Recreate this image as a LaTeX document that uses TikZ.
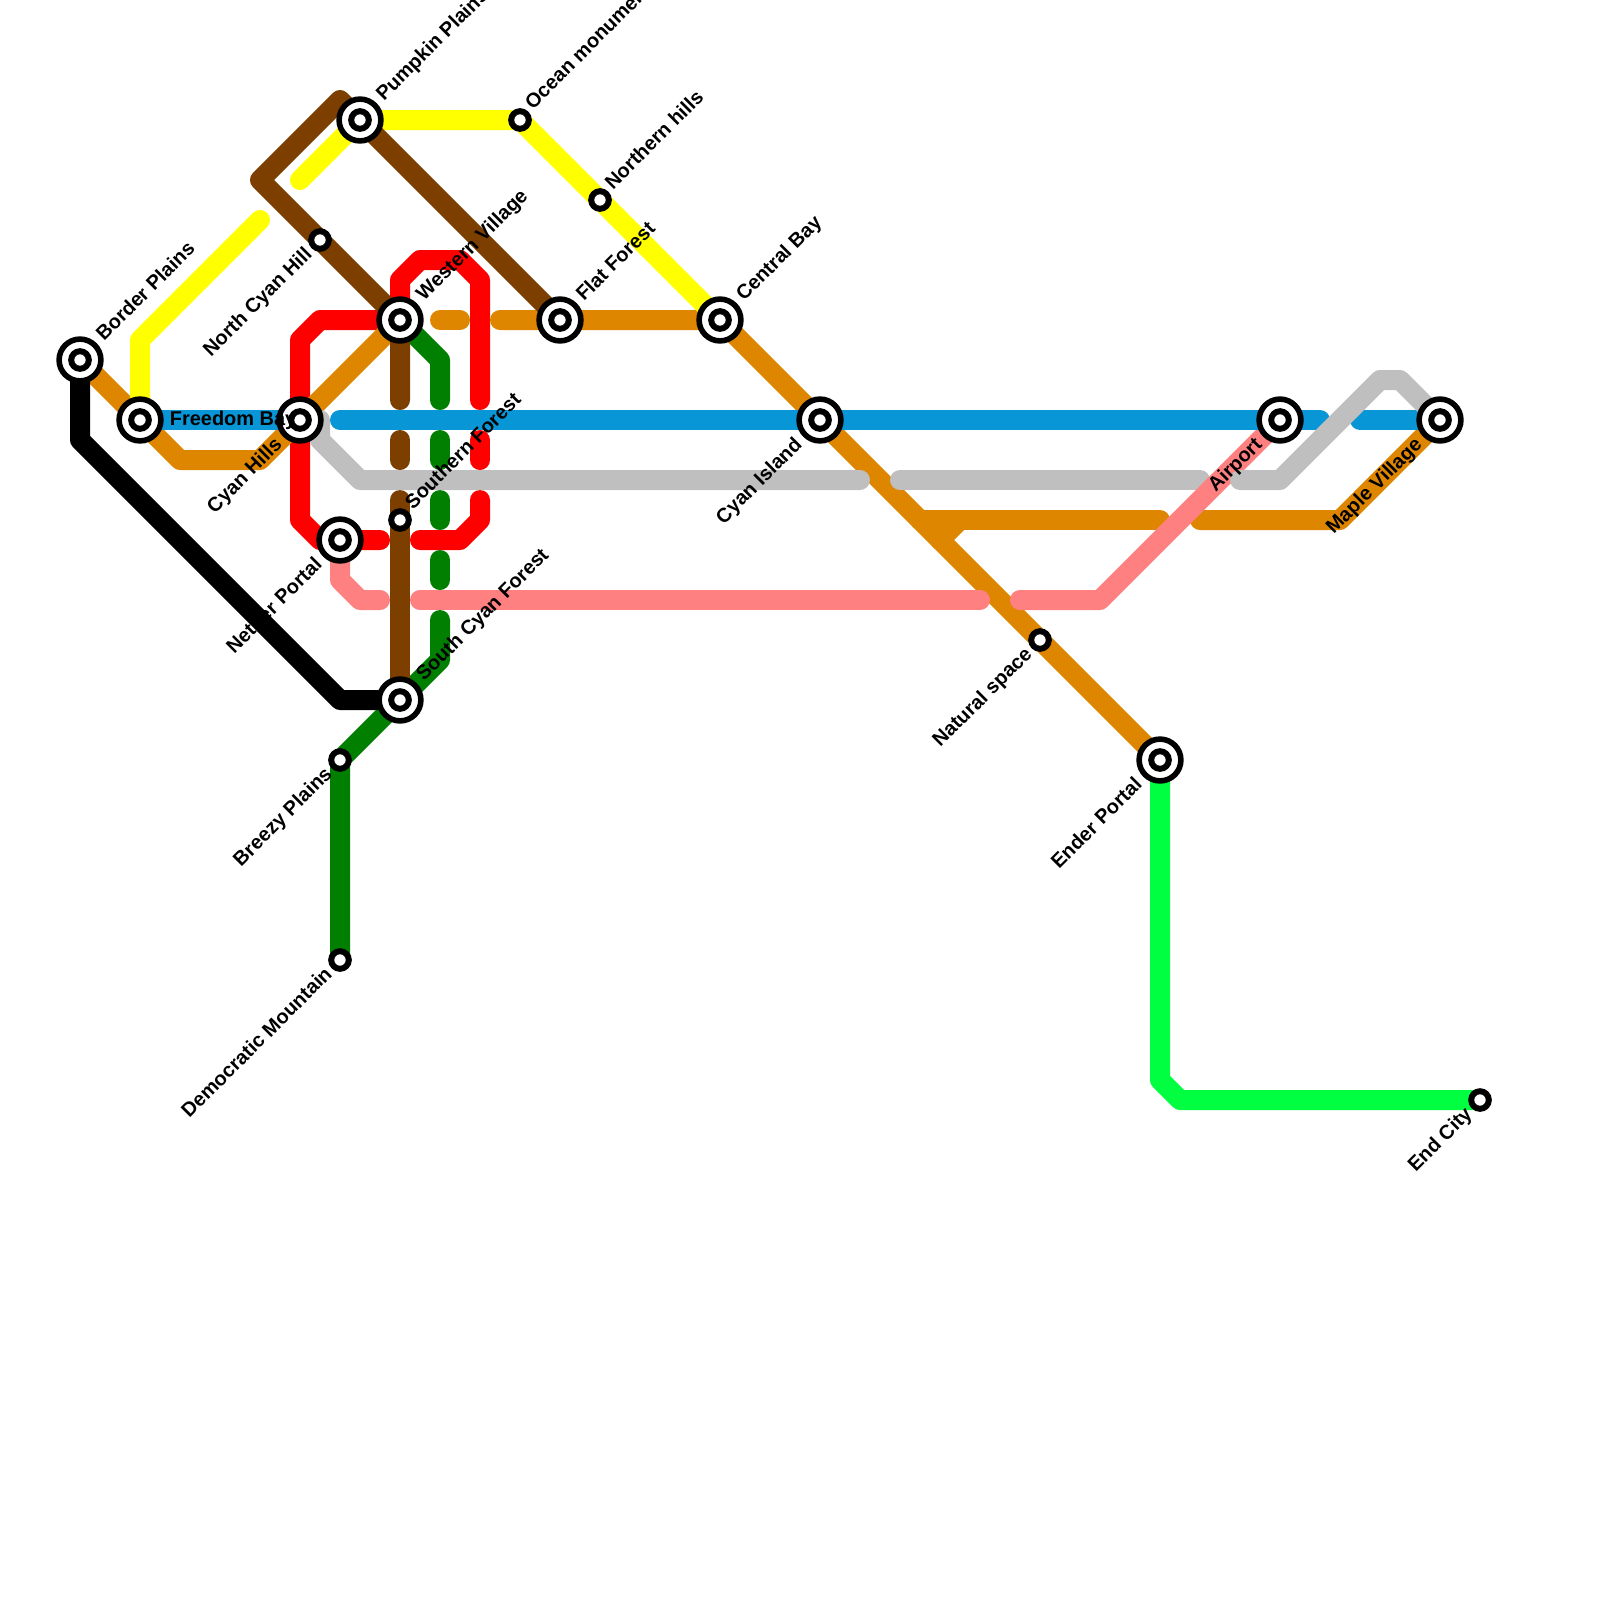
\documentclass[tikz,border=0pt]{standalone}
\usepackage{fontspec}
\setmainfont{Liberation Sans}
\usepackage{xcolor}
\usetikzlibrary{backgrounds,calc}
\definecolor{LineOrange}{HTML}{DF8600}
\definecolor{LineBlue}{HTML}{0896D7}
\definecolor{LineBrown}{HTML}{7C3F00}
\definecolor{LineGreen}{HTML}{007F00}
\definecolor{LinePink}{HTML}{FF8080}
\definecolor{LineGray}{HTML}{BFBFBF}
\definecolor{LineLime}{HTML}{00FF40}
\definecolor{LineYellow}{HTML}{FFFF00}
\definecolor{LineRed}{HTML}{FF0000}
\tikzset{
 route/.style={line width=5mm,line cap=round,line join=round},
 interchange/.style={circle,draw=black,fill=white,line width=1.4mm,inner sep=0pt,outer sep=0pt,minimum size=10.45mm,
  path picture={\draw[black,line width=1.5mm] (path picture bounding box.center) circle (2.2mm);}},
 halt/.style={circle,draw=black,fill=white,line width=1.5mm,inner sep=0pt,outer sep=0pt,minimum size=4.4mm},
 namebase/.style={font=\bfseries\fontsize{14.2}{15}\selectfont,text=black,inner sep=0pt},
 bigne/.style={namebase,xshift=6mm,yshift=4.5mm,rotate=45,anchor=base west},
 bigsw/.style={namebase,xshift=-4.2mm,yshift=-6.4mm,rotate=45,anchor=base east},
 smallne/.style={namebase,xshift=3.2mm,yshift=2.4mm,rotate=45,anchor=base west},
 smallsw/.style={namebase,xshift=-1.7mm,yshift=-3.8mm,rotate=45,anchor=base east}
}

\begin{document}
\begin{tikzpicture}[x=5mm,y=-5mm]
\useasboundingbox (0,0) rectangle (80,80);
% stations
\node[interchange] (border) at (4,18) {};
\node[interchange] (freedom) at (7,21) {};
\node[interchange] (hills) at (15,21) {};
\node[interchange] (pumpkin) at (18,6) {};
\node[halt] (ocean) at (26,6) {};
\node[halt] (northern) at (30,10) {};
\node[halt] (northcyan) at (16,12) {};
\node[interchange] (western) at (20,16) {};
\node[interchange] (flat) at (28,16) {};
\node[interchange] (central) at (36,16) {};
\node[halt] (southern) at (20,26) {};
\node[interchange] (nether) at (17,27) {};
\node[interchange] (southcyan) at (20,35) {};
\node[halt] (breezy) at (17,38) {};
\node[halt] (democratic) at (17,48) {};
\node[interchange] (island) at (41,21) {};
\node[halt] (natural) at (52,32) {};
\node[interchange] (ender) at (58,38) {};
\node[halt] (endcity) at (74,55) {};
\node[interchange] (airport) at (64,21) {};
\node[interchange] (maple) at (72,21) {};
% free ends of the broken routes
\coordinate (redA) at (19,27);
\coordinate (redB) at (21,27);
\coordinate (redC) at (24,25);
\coordinate (redD) at (24,23);
\coordinate (redE) at (24,22);
\coordinate (redF) at (24,20);
\coordinate (orangeA) at (22,16);
\coordinate (orangeB) at (23,16);
\coordinate (orangeC) at (25,16);
\coordinate (orangeD) at (46,26);
\coordinate (orangeE) at (48,26);
\coordinate (orangeF) at (47,27);
\coordinate (orangeG) at (58,26);
\coordinate (orangeH) at (60,26);
\coordinate (greenA) at (22,20);
\coordinate (greenB) at (22,22);
\coordinate (greenC) at (22,23);
\coordinate (greenD) at (22,25);
\coordinate (greenE) at (22,26);
\coordinate (greenF) at (22,28);
\coordinate (greenG) at (22,29);
\coordinate (greenH) at (22,31);
\coordinate (brownA) at (20,20);
\coordinate (brownB) at (20,22);
\coordinate (brownC) at (20,23);
\coordinate (brownD) at (20,25);
\coordinate (yellowA) at (15,9);
\coordinate (yellowB) at (13,11);
\coordinate (grayA) at (43,24);
\coordinate (grayB) at (45,24);
\coordinate (grayC) at (60,24);
\coordinate (grayD) at (62,24);
\coordinate (pinkA) at (19,30);
\coordinate (pinkB) at (21,30);
\coordinate (pinkC) at (49,30);
\coordinate (pinkD) at (51,30);
\coordinate (blueA) at (17,21);
\coordinate (blueB) at (66,21);
\coordinate (blueC) at (68,21);
% routes
\begin{scope}[on background layer]
\draw[route,LineRed] (western.center) -- (16,16) -- (15,17) -- (hills.center) -- (15,26) -- (16,27) -- (nether.center) -- (redA);
\draw[route,LineRed] (redB) -- (23,27) -- (24,26) -- (redC);
\draw[route,LineRed] (redD) -- (redE);
\draw[route,LineRed] (redF) -- (24,14) -- (23,13) -- (21,13) -- (20,14) -- (western.center);
\draw[route,LineOrange] (border.center) -- (freedom.center) -- (9,23) -- (13,23) -- (hills.center) -- (western.center);
\draw[route,LineOrange] (orangeA) -- (orangeB);
\draw[route,LineOrange] (orangeC) -- (flat.center) -- (central.center) -- (island.center) -- (natural.center) -- (ender.center);
\draw[route,LineOrange] (orangeD) -- (orangeE) -- (orangeG);
\draw[route,LineOrange] (orangeF) -- (orangeE);
\draw[route,LineOrange] (orangeH) -- (67,26) -- (maple.center);
\draw[route,LineGreen] (western.center) -- (22,18) -- (greenA);
\draw[route,LineGreen] (greenB) -- (greenC);
\draw[route,LineGreen] (greenD) -- (greenE);
\draw[route,LineGreen] (greenF) -- (greenG);
\draw[route,LineGreen] (greenH) -- (22,33) -- (southcyan.center) -- (breezy.center) -- (democratic.center);
\draw[route,LineYellow] (freedom.center) -- (7,17) -- (yellowB);
\draw[route,LineYellow] (yellowA) -- (pumpkin.center) -- (ocean.center) -- (northern.center) -- (central.center);
\draw[route,LineBrown] (flat.center) -- (pumpkin.center) -- (17,5) -- (13,9) -- (northcyan.center) -- (western.center) -- (brownA);
\draw[route,LineBrown] (brownB) -- (brownC);
\draw[route,LineBrown] (brownD) -- (southern.center) -- (southcyan.center);
\draw[route,black] (border.center) -- (4,22) -- (17,35) -- (southcyan.center);
\draw[route,LineGray] (hills.center) -- (16,21) -- (16,22) -- (18,24) -- (grayA);
\draw[route,LineGray] (grayB) -- (grayC);
\draw[route,LinePink] (nether.center) -- (17,29) -- (18,30) -- (pinkA);
\draw[route,LinePink] (pinkB) -- (pinkC);
\draw[route,LinePink] (pinkD) -- (55,30) -- (airport.center);
\draw[route,LineBlue] (freedom.center) -- (hills.center);
\draw[route,LineBlue] (blueA) -- (island.center) -- (airport.center) -- (blueB);
\draw[route,LineBlue] (blueC) -- (maple.center);
\draw[route,LineGray] (grayD) -- (64,24) -- (69,19) -- (70,19) -- (maple.center);
\draw[route,LineLime] (ender.center) -- (58,54) -- (59,55) -- (endcity.center);
\end{scope}
% names
\node[bigne] (borderName) at (border) {Border Plains};
\node[namebase,xshift=7.4mm,yshift=-1.35mm,anchor=base west] (freedomName) at (freedom) {Freedom Bay};
\node[bigsw] (hillsName) at (hills) {Cyan Hills};
\node[bigne] (pumpkinName) at (pumpkin) {Pumpkin Plains};
\node[smallne] (oceanName) at (ocean) {Ocean monument};
\node[smallne] (northernName) at (northern) {Northern hills};
\node[smallsw] (northcyanName) at (northcyan) {North Cyan Hill};
\node[bigne] (westernName) at (western) {Western Village};
\node[bigne] (flatName) at (flat) {Flat Forest};
\node[bigne] (centralName) at (central) {Central Bay};
\node[smallne] (southernName) at (southern) {Southern Forest};
\node[bigsw] (netherName) at (nether) {Nether Portal};
\node[bigne] (southcyanName) at (southcyan) {South Cyan Forest};
\node[smallsw] (breezyName) at (breezy) {Breezy Plains};
\node[smallsw] (democraticName) at (democratic) {Democratic Mountain};
\node[bigsw] (islandName) at (island) {Cyan Island};
\node[smallsw] (naturalName) at (natural) {Natural space};
\node[bigsw] (enderName) at (ender) {Ender Portal};
\node[smallsw] (endcityName) at (endcity) {End City};
\node[bigsw] (airportName) at (airport) {Airport};
\node[bigsw] (mapleName) at (maple) {Maple Village};
\end{tikzpicture}
\end{document}
